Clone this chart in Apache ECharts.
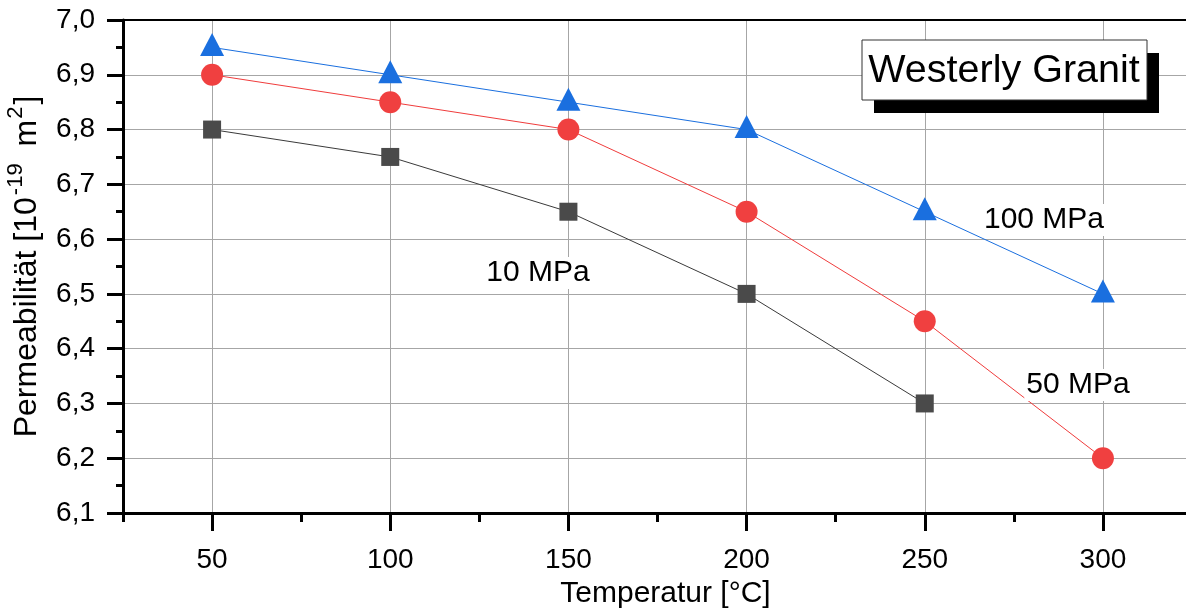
<!DOCTYPE html>
<html><head><meta charset="utf-8">
<script src="https://cdn.jsdelivr.net/npm/echarts@6/dist/echarts.min.js"></script>
<style>html,body{margin:0;padding:0;background:#fff}#c{width:1186px;height:611px}</style>
</head><body><div id="c"></div>
<script>
const temperatures = [50, 100, 150, 200, 250, 300];
const mpa10 = [6.80, 6.75, 6.65, 6.50, 6.30, null];
const mpa50 = [6.90, 6.85, 6.80, 6.65, 6.45, 6.20];
const mpa100 = [6.95, 6.90, 6.85, 6.80, 6.65, 6.50];
const xMajorTicks = [50, 100, 150, 200, 250, 300];
const seriesNames = ['10 MPa', '50 MPa', '100 MPa'];

const FONT = "'Liberation Sans', Arial, sans-serif";
const pairs = arr => temperatures.map((t, i) => [t, arr[i]]).filter(p => p[1] != null);

const chart = echarts.init(document.getElementById('c'), null, {renderer: 'canvas'});
const option = {
  animation: false,
  backgroundColor: '#fff',
  grid: {left: 123, right: -6, top: 20, bottom: 98, containLabel: false, outerBoundsMode: 'none'},
  xAxis: [
    {
      type: 'value', min: 25, max: 325, position: 'bottom',
      axisLine: {show: true, onZero: false, lineStyle: {color: '#000', width: 3}},
      axisTick: {show: true, inside: false, length: 18, lineStyle: {color: '#000', width: 3}, customValues: xMajorTicks},
      axisLabel: {show: true, customValues: xMajorTicks, color: '#000', fontSize: 28, fontFamily: FONT, margin: 33},
      splitLine: {show: true, lineStyle: {color: '#a6a6a6', width: 1}},
      name: 'Temperatur [°C]', nameLocation: 'middle', nameGap: 64,
      nameTextStyle: {color: '#000', fontSize: 30, fontFamily: FONT, padding: [0, 0, 0, 16]}
    },
    {
      type: 'value', min: 25, max: 325, interval: 50, position: 'bottom', gridIndex: 0,
      axisLine: {show: false, onZero: false},
      axisTick: {show: true, length: 9, lineStyle: {color: '#000', width: 3}},
      axisLabel: {show: false},
      splitLine: {show: false}
    },
    {
      type: 'value', min: 25, max: 325, position: 'top', gridIndex: 0,
      axisLine: {show: true, onZero: false, lineStyle: {color: '#000', width: 2}},
      axisTick: {show: false}, axisLabel: {show: false}, splitLine: {show: false}
    }
  ],
  yAxis: {
    type: 'value', min: 6.1, max: 7.0, interval: 0.1,
    axisLine: {show: true, onZero: false, lineStyle: {color: '#000', width: 3}},
    axisTick: {show: true, length: 16, lineStyle: {color: '#000', width: 3}},
    minorTick: {show: true, splitNumber: 2, length: 7, lineStyle: {color: '#000', width: 3}},
    axisLabel: {color: '#000', fontSize: 28, fontFamily: FONT, margin: 28,
      formatter: v => v.toFixed(1).replace('.', ',')},
    splitLine: {show: true, lineStyle: {color: '#a6a6a6', width: 1}},
    name: '{a|Permeabilität [10}{s|-19}{a| m}{t|2}{a|]}',
    nameLocation: 'middle', nameGap: 80, nameRotate: 90,
    nameTextStyle: {
      rich: {
        a: {fontSize: 32, fontFamily: FONT, color: '#000', lineHeight: 38, verticalAlign: 'bottom'},
        s: {fontSize: 22, fontFamily: FONT, color: '#000', lineHeight: 38, verticalAlign: 'top', padding: [0, 8, 14, 2]},
        t: {fontSize: 22, fontFamily: FONT, color: '#000', lineHeight: 38, verticalAlign: 'top', padding: [0, 2, 14, 1]}
      }
    }
  },
  series: [
    {
      name: seriesNames[0], type: 'line', data: pairs(mpa10),
      symbol: 'rect', symbolSize: 18,
      lineStyle: {color: '#3a3a3a', width: 1}, itemStyle: {color: '#4a4a4a'}, z: 3
    },
    {
      name: seriesNames[1], type: 'line', data: pairs(mpa50),
      symbol: 'circle', symbolSize: 22,
      lineStyle: {color: '#f03c3c', width: 1}, itemStyle: {color: '#f04040'}, z: 4
    },
    {
      name: seriesNames[2], type: 'line', data: pairs(mpa100),
      symbol: 'triangle', symbolSize: [24, 23], symbolOffset: [0, -3],
      lineStyle: {color: '#1a6fdf', width: 1}, itemStyle: {color: '#1a6fdf'}, z: 5
    }
  ],
  graphic: [
    {type: 'rect', z: 100, shape: {x: 874, y: 53, width: 285, height: 60}, style: {fill: '#000'}},
    {type: 'rect', z: 101, shape: {x: 862, y: 40, width: 285, height: 60}, style: {fill: '#fff', stroke: '#333', lineWidth: 1}},
    {type: 'text', z: 102, x: 1004, y: 71, style: {text: 'Westerly Granit', fontSize: 39.5, fontFamily: FONT, fill: '#000', align: 'center', verticalAlign: 'middle'}},
    {type: 'text', z: 102, x: 538, y: 273, style: {text: seriesNames[0], fontSize: 30, fontFamily: FONT, fill: '#000', align: 'center', verticalAlign: 'middle', backgroundColor: '#fff', padding: [1, 2]}},
    {type: 'text', z: 102, x: 1044, y: 220, style: {text: seriesNames[2], fontSize: 30, fontFamily: FONT, fill: '#000', align: 'center', verticalAlign: 'middle', backgroundColor: '#fff', padding: [1, 2]}},
    {type: 'text', z: 102, x: 1078, y: 385, style: {text: seriesNames[1], fontSize: 30, fontFamily: FONT, fill: '#000', align: 'center', verticalAlign: 'middle', backgroundColor: '#fff', padding: [1, 2]}}
  ]
};
chart.setOption(option);
</script></body></html>
